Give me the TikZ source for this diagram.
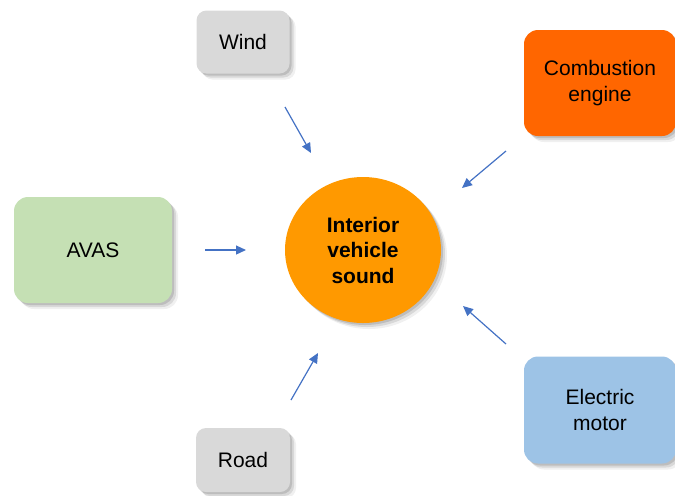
\documentclass[tikz,border=0pt]{standalone}
\usepackage{fontspec}
\setmainfont{Liberation Sans}
\usetikzlibrary{arrows.meta,shapes.geometric,shadows}

\definecolor{greybox}{HTML}{D9D9D9}
\definecolor{combustion}{HTML}{FF6600}
\definecolor{interior}{HTML}{FF9900}
\definecolor{avasgreen}{HTML}{C5E0B4}
\definecolor{motorblue}{HTML}{9DC3E6}
\definecolor{arrowblue}{HTML}{4472C4}

\begin{document}
\begin{tikzpicture}[x=0.5pt, y=-0.5pt, >={Triangle[length=5pt,width=4.5pt]},
    softshadow/.style={
        drop shadow={shadow xshift=1pt, shadow yshift=-1pt, opacity=0.12, fill=black},
        drop shadow={shadow xshift=2pt, shadow yshift=-2pt, opacity=0.10, fill=black},
        drop shadow={shadow xshift=3pt, shadow yshift=-3pt, opacity=0.06, fill=black}},
    source/.style={rounded corners=7pt, align=center, inner sep=0pt, softshadow,
        font=\fontsize{10.5}{13}\selectfont},
    flow/.style={->, draw=arrowblue, line width=0.6pt}]
    \useasboundingbox (0,0) rectangle (675,495);

    % 中心
    \node[ellipse, fill=interior, minimum width=78pt, minimum height=73pt, inner sep=0pt,
        align=center, softshadow, font=\fontsize{10.5}{12.75}\selectfont\bfseries]
        (interior) at (363,250) {Interior\\vehicle\\sound};

    % 声源
    \node[source, fill=greybox, minimum width=46.5pt, minimum height=31.5pt, rounded corners=5pt]
        (wind) at (243,42) {Wind};
    \node[source, fill=combustion, minimum width=76pt, minimum height=53pt]
        (engine) at (600,83) {Combustion\\engine};
    \node[source, fill=avasgreen, minimum width=79pt, minimum height=53pt]
        (avas) at (93,250) {AVAS};
    \node[source, fill=greybox, minimum width=47pt, minimum height=32pt, rounded corners=5pt]
        (road) at (243,460) {Road};
    \node[source, fill=motorblue, minimum width=76pt, minimum height=53.5pt]
        (motor) at (600,410) {Electric\\motor};

    % 箭头端点
    \coordinate (wind-s) at (285,107);
    \coordinate (wind-e) at (311,153);
    \coordinate (engine-s) at (506,151);
    \coordinate (engine-e) at (462,188);
    \coordinate (avas-s) at (205,250);
    \coordinate (avas-e) at (246,250);
    \coordinate (road-s) at (291,400);
    \coordinate (road-e) at (318,353);
    \coordinate (motor-s) at (506,344);
    \coordinate (motor-e) at (463,306);

    % 箭头
    \draw[flow] (wind-s) -- (wind-e);
    \draw[flow] (engine-s) -- (engine-e);
    \draw[flow] (avas-s) -- (avas-e);
    \draw[flow] (road-s) -- (road-e);
    \draw[flow] (motor-s) -- (motor-e);
\end{tikzpicture}
\end{document}
